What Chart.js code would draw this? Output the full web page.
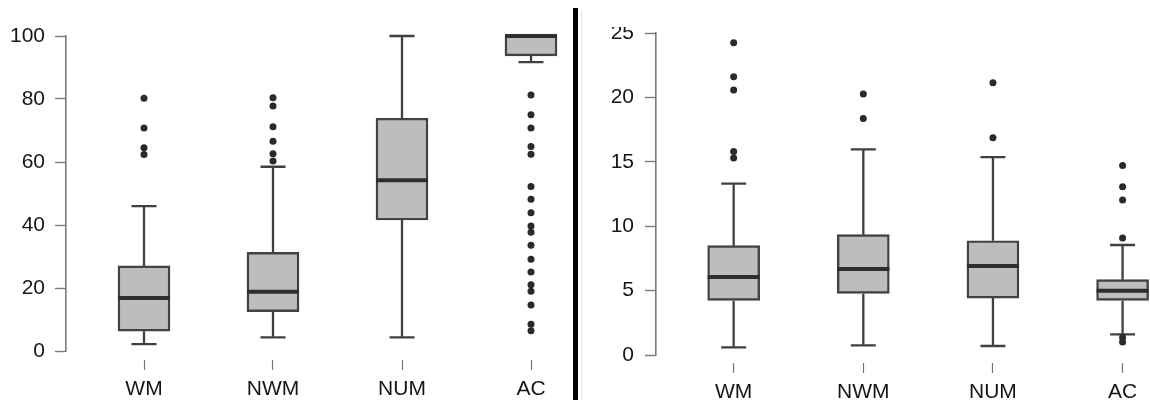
<!DOCTYPE html>
<html>
<head>
<meta charset="utf-8">
<script src="https://cdn.jsdelivr.net/npm/chart.js@4.4.1/dist/chart.umd.min.js"></script>
<style>
  html, body { margin: 0; padding: 0; background: #fff; }
  body { width: 1150px; height: 407px; position: relative; overflow: hidden; }
  #leftWrap { position: absolute; left: 0; top: 0; width: 572px; height: 407px; }
  #divider { position: absolute; left: 573px; top: 8px; width: 5px; height: 392px; background: #000; }
  #rightWrap { position: absolute; left: 578px; top: 27px; width: 572px; height: 380px; overflow: hidden; }
  #rightWrap canvas { position: absolute; left: 0; top: -27px; }
  #faint { position: absolute; left: 581px; top: 10px; width: 1px; height: 391px; background: #e4e4e4; }
</style>
</head>
<body>
<div id="leftWrap"><canvas id="left" width="572" height="407"></canvas></div>
<div id="divider"></div>
<div id="faint"></div>
<div id="rightWrap"><canvas id="right" width="572" height="407"></canvas></div>
<script>
// ---- data ----
const categories = ['WM', 'NWM', 'NUM', 'AC'];

// left panel (0-100)
const leftTicks = [0, 20, 40, 60, 80, 100];
const leftLow  = [2.2, 4.3, 4.3, 91.7];
const leftQ1   = [6.3, 12.5, 41.6, 93.7];
const leftMed  = [16.8, 18.8, 54.2, 100];
const leftQ3   = [27.0, 31.3, 73.9, 100];
const leftHigh = [46.0, 58.5, 100, 100];
const leftOutWM  = [80.2, 70.8, 64.5, 62.4];
const leftOutNWM = [80.4, 77.8, 71.2, 66.6, 62.6, 60.3];
const leftOutNUM = [];
const leftOutAC  = [81.3, 75.0, 70.8, 64.9, 62.5, 52.2, 48.2, 43.9, 39.7, 37.7, 33.6, 29.1, 25.1, 21.0, 19.0, 14.6, 8.5, 6.4];

// right panel (0-25)
const rightTicks = [0, 5, 10, 15, 20, 25];
const rightLow  = [0.59, 0.75, 0.70, 1.6];
const rightQ1   = [4.24, 4.78, 4.42, 4.24];
const rightMed  = [6.05, 6.68, 6.91, 4.99];
const rightQ3   = [8.49, 9.34, 8.87, 5.85];
const rightHigh = [13.3, 15.96, 15.37, 8.54];
const rightOutWM  = [24.25, 21.6, 20.57, 15.8, 15.3];
const rightOutNWM = [20.26, 18.37];
const rightOutNUM = [21.14, 16.87];
const rightOutAC  = [14.72, 13.07, 12.03, 9.08, 1.35, 1.0];

// ---- drawing ----
const FONT = "'Liberation Sans', Arial, sans-serif";
const TEXT = '#161616';
const BOX_W = 52, CAP_W = 25;

function whiskerPlugin(low, q1, med, q3, high) {
  return {
    id: 'whiskers',
    beforeDatasetsDraw(chart) {
      const {ctx, scales: {x, y}} = chart;
      ctx.save();
      ctx.strokeStyle = '#404040';
      ctx.lineWidth = 2.3;
      ctx.lineCap = 'butt';
      categories.forEach((c, i) => {
        const px = x.getPixelForValue(i + 1);
        ctx.beginPath();
        ctx.moveTo(px, y.getPixelForValue(q3[i]));
        ctx.lineTo(px, y.getPixelForValue(high[i]));
        ctx.moveTo(px, y.getPixelForValue(q1[i]));
        ctx.lineTo(px, y.getPixelForValue(low[i]));
        ctx.moveTo(px - CAP_W / 2, y.getPixelForValue(high[i]));
        ctx.lineTo(px + CAP_W / 2, y.getPixelForValue(high[i]));
        ctx.moveTo(px - CAP_W / 2, y.getPixelForValue(low[i]));
        ctx.lineTo(px + CAP_W / 2, y.getPixelForValue(low[i]));
        ctx.stroke();
      });
      ctx.restore();
    },
    afterDatasetsDraw(chart) {
      const {ctx, scales: {x, y}} = chart;
      ctx.save();
      ctx.strokeStyle = '#2e2e2e';
      ctx.lineWidth = 4;
      categories.forEach((c, i) => {
        const px = x.getPixelForValue(i + 1);
        const py = y.getPixelForValue(med[i]);
        ctx.beginPath();
        ctx.moveTo(px - BOX_W / 2, py);
        ctx.lineTo(px + BOX_W / 2, py);
        ctx.stroke();
      });
      ctx.restore();
    }
  };
}

function makeChart(id, cfg) {
  const outPoints = [];
  cfg.outliers.forEach((arr, i) => arr.forEach(v => outPoints.push({x: i + 1, y: v})));
  return new Chart(document.getElementById(id), {
    type: 'bar',
    data: {
      datasets: [
        {
          type: 'bar',
          data: categories.map((c, i) => ({x: i + 1, y: [cfg.q1[i], cfg.q3[i]]})),
          backgroundColor: '#bdbdbd',
          borderColor: '#424242',
          borderWidth: 2.4,
          borderSkipped: false,
          barThickness: BOX_W,
          clip: false,
          order: 2
        },
        {
          type: 'scatter',
          data: outPoints,
          pointRadius: 3.5,
          pointBackgroundColor: '#2a2a2a',
          pointBorderWidth: 0,
          showLine: false,
          clip: false,
          order: 1
        }
      ]
    },
    options: {
      responsive: false,
      animation: false,
      events: [],
      layout: { padding: { top: cfg.top, right: cfg.padRight, bottom: 0, left: 0 } },
      plugins: { legend: { display: false }, tooltip: { enabled: false } },
      scales: {
        x: {
          type: 'linear',
          offset: false,
          min: cfg.xMin,
          max: cfg.xMax,
          afterFit: s => { s.height = cfg.xHeight; },
          afterBuildTicks: s => { s.ticks = categories.map((c, i) => ({value: i + 1})); },
          border: { display: false },
          grid: {
            offset: false,
            drawOnChartArea: false,
            drawTicks: true,
            tickLength: cfg.xGap + cfg.xTickLen,
            tickBorderDash: [0, cfg.xGap, cfg.xTickLen, 40],
            tickColor: '#777',
            tickWidth: 1.2
          },
          ticks: {
            autoSkip: false,
            maxRotation: 0,
            padding: cfg.xPad,
            color: TEXT,
            font: { family: FONT, size: 21 },
            callback: v => categories[v - 1]
          }
        },
        y: {
          type: 'linear',
          min: cfg.ticks[0],
          max: cfg.ticks[cfg.ticks.length - 1],
          afterFit: s => { s.width = cfg.yWidth; },
          afterBuildTicks: s => { s.ticks = cfg.ticks.map(v => ({value: v})); },
          border: { display: true, color: '#7a7a7a', width: 1.6 },
          grid: {
            drawOnChartArea: false,
            tickLength: 11,
            tickColor: '#7a7a7a',
            tickWidth: 1.4
          },
          ticks: {
            padding: cfg.yPad,
            color: TEXT,
            font: { family: FONT, size: 21 }
          }
        }
      }
    },
    plugins: [whiskerPlugin(cfg.low, cfg.q1, cfg.med, cfg.q3, cfg.high)]
  });
}

// left: chart area 66..560 x, 36..351 y ; category spacing 129
makeChart('left', {
  low: leftLow, q1: leftQ1, med: leftMed, q3: leftQ3, high: leftHigh,
  outliers: [leftOutWM, leftOutNWM, leftOutNUM, leftOutAC],
  ticks: leftTicks,
  top: 36, padRight: 12, yWidth: 66, xHeight: 56,
  xMin: 1 - 78 / 129, xMax: 1 - 78 / 129 + 494 / 129,
  xGap: 9, xTickLen: 10, xPad: 7, yPad: 10
});

// right: chart area 78..572 x (canvas coords), 33.3..355.3 y ; spacing 130.7
makeChart('right', {
  low: rightLow, q1: rightQ1, med: rightMed, q3: rightQ3, high: rightHigh,
  outliers: [rightOutWM, rightOutNWM, rightOutNUM, rightOutAC],
  ticks: rightTicks,
  top: 33, padRight: 0, yWidth: 78, xHeight: 52,
  xMin: 1 - 78.3 / 130.7, xMax: 1 - 78.3 / 130.7 + 494 / 130.7,
  xGap: 8, xTickLen: 10, xPad: 7, yPad: 11
});
</script>
</body>
</html>
